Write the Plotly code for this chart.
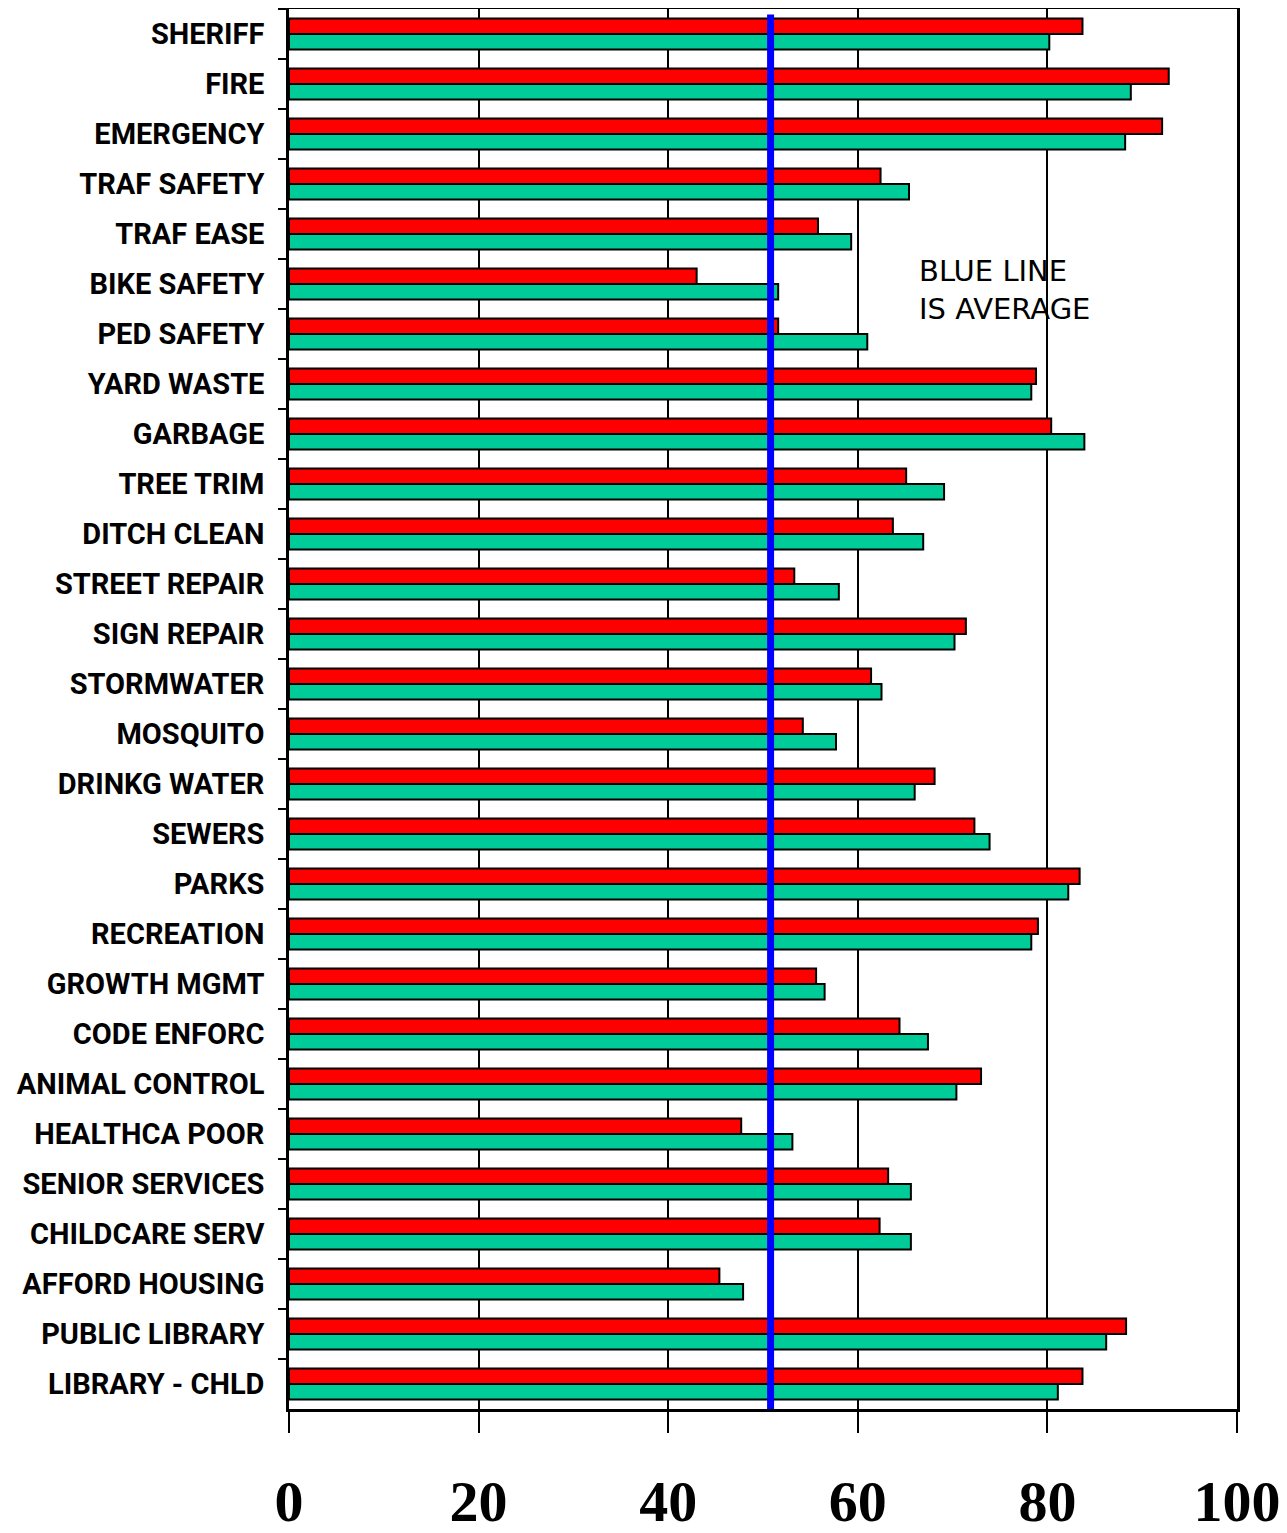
import plotly.graph_objects as go

categories = [
    "SHERIFF", "FIRE", "EMERGENCY", "TRAF SAFETY", "TRAF EASE", "BIKE SAFETY",
    "PED SAFETY", "YARD WASTE", "GARBAGE", "TREE TRIM", "DITCH CLEAN",
    "STREET REPAIR", "SIGN REPAIR", "STORMWATER", "MOSQUITO", "DRINKG WATER",
    "SEWERS", "PARKS", "RECREATION", "GROWTH MGMT", "CODE ENFORC",
    "ANIMAL CONTROL", "HEALTHCA POOR", "SENIOR SERVICES", "CHILDCARE SERV",
    "AFFORD HOUSING", "PUBLIC LIBRARY", "LIBRARY - CHLD",
]

red_values = [
    83.7, 92.8, 92.1, 62.4, 55.8, 43.0,
    51.6, 78.8, 80.4, 65.1, 63.7,
    53.3, 71.4, 61.4, 54.2, 68.1,
    72.3, 83.4, 79.0, 55.6, 64.4,
    73.0, 47.7, 63.2, 62.3,
    45.4, 88.3, 83.7,
]

green_values = [
    80.2, 88.8, 88.2, 65.4, 59.3, 51.6,
    61.0, 78.3, 83.9, 69.1, 66.9,
    58.0, 70.2, 62.5, 57.7, 66.0,
    73.9, 82.2, 78.3, 56.5, 67.4,
    70.4, 53.1, 65.6, 65.6,
    47.9, 86.2, 81.1,
]

average_value = 50.8
x_ticks = [0, 20, 40, 60, 80, 100]
note_text = "BLUE LINE<br>IS AVERAGE"

fig = go.Figure()
fig.add_trace(go.Bar(
    y=categories, x=red_values, orientation="h",
    marker=dict(color="#FF0000", line=dict(color="black", width=2)),
    showlegend=False,
))
fig.add_trace(go.Bar(
    y=categories, x=green_values, orientation="h",
    marker=dict(color="#00CC99", line=dict(color="black", width=2)),
    showlegend=False,
))

fig.add_shape(
    type="line", xref="x", yref="paper",
    x0=average_value, x1=average_value, y0=0, y1=0.996,
    line=dict(color="#0000FF", width=7), layer="above",
)

fig.add_annotation(
    x=66.2, xref="x", y=0.799, yref="paper",
    xanchor="left", yanchor="middle", align="left",
    text=note_text, showarrow=False,
    font=dict(family="DejaVu Sans", size=29, color="black"),
)

fig.update_layout(
    width=1279, height=1525,
    margin=dict(l=281, r=50, t=1, b=124, autoexpand=False),
    paper_bgcolor="white", plot_bgcolor="white",
    barmode="group", bargap=0.38, bargroupgap=0,
)

fig.update_xaxes(
    range=[0, 100], tickvals=x_ticks, ticktext=[str(v) for v in x_ticks],
    showgrid=True, gridcolor="black", gridwidth=2,
    showline=True, linecolor="black", linewidth=2.5, mirror=True,
    ticks="outside", ticklen=21, tickwidth=2, tickcolor="black",
    tickfont=dict(family="Liberation Serif, Times New Roman, serif", size=58,
                  color="black", weight="bold"),
    ticklabelstandoff=19, zeroline=False, automargin=False,
)

fig.update_yaxes(
    categoryorder="array", categoryarray=categories, autorange="reversed",
    showline=True, linecolor="black", linewidth=2.5, mirror=True,
    ticks="outside", ticklen=8, tickwidth=2, tickcolor="black",
    tickson="boundaries", showgrid=False,
    tickfont=dict(family="Roboto, DejaVu Sans Condensed, sans-serif",
                  size=29, color="black", weight="bold"),
    ticklabelstandoff=16, automargin=False,
)

fig.write_html("out.html")
